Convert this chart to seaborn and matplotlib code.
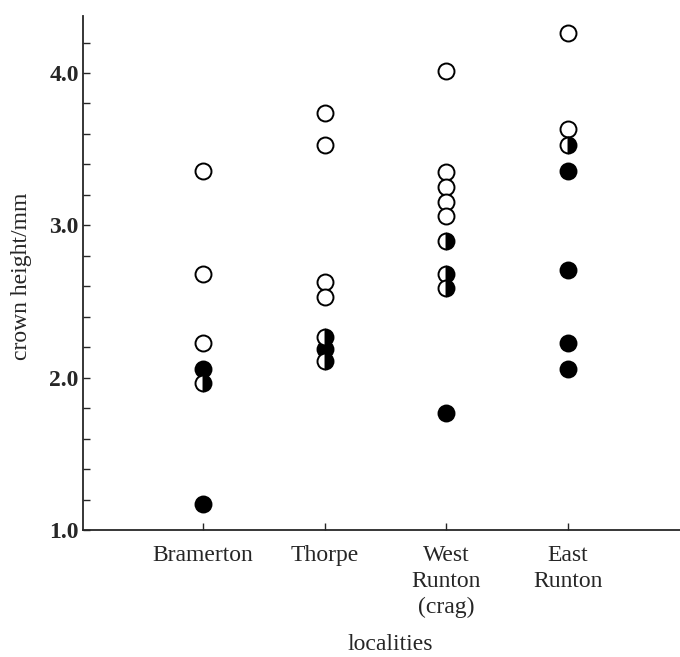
import numpy as np
import pandas as pd
import matplotlib
matplotlib.use("Agg")
import matplotlib.pyplot as plt
import seaborn as sns
from matplotlib.ticker import MultipleLocator

localities = ["Bramerton", "Thorpe", "West\nRunton\n(crag)", "East\nRunton"]

# crown heights per locality, by marker type
open_vals = {
    1: [3.36, 2.68, 2.23],
    2: [3.74, 3.53, 2.63, 2.53],
    3: [4.01, 3.35, 3.25, 3.15, 3.06],
    4: [4.26, 3.63],
}
filled_vals = {
    1: [2.06, 1.17],
    2: [2.19],
    3: [1.77],
    4: [3.36, 2.71, 2.23, 2.06],
}
half_vals = {
    1: [1.965],
    2: [2.27, 2.11],
    3: [2.90, 2.68, 2.59],
    4: [3.53],
}

def to_df(d):
    rows = [(k, v) for k, vs in d.items() for v in vs]
    return pd.DataFrame(rows, columns=["pos", "height"])

df_open = to_df(open_vals)
df_filled = to_df(filled_vals)
df_half = to_df(half_vals)

sns.set_style("ticks")
plt.rcParams["font.family"] = ["Liberation Serif", "DejaVu Serif"]

fig = plt.figure(figsize=(6.8, 6.57), dpi=100)
ax = fig.add_axes([83/680, 1-530/657, 1-83/680, (530-16)/657])

ms = 11.5
lw = 1.4
for df, fc in [(df_open, "white"), (df_filled, "black")]:
    sns.lineplot(data=df, x="pos", y="height", estimator=None, units=df.index,
                 ax=ax, linestyle="none", marker="o", markersize=ms,
                 markerfacecolor=fc, markeredgecolor="black",
                 markeredgewidth=lw, legend=False, sort=False)
sns.lineplot(data=df_half, x="pos", y="height", estimator=None, units=df_half.index,
             ax=ax, linestyle="none", marker="o", markersize=ms,
             fillstyle="right", markerfacecolor="black",
             markerfacecoloralt="white", markeredgecolor="black",
             markeredgewidth=lw, legend=False, sort=False)

unit = (568-203)/3
ax.set_xlim(1-(203-83)/unit, 1+(680-203)/unit)
ax.set_ylim(1.0, 1+(530-16)/152.33)

fs = 17
ax.set_xticks([1, 2, 3, 4])
ax.set_xticklabels(localities, fontsize=fs, linespacing=1.3, va="top")
ax.yaxis.set_major_locator(MultipleLocator(1.0))
ax.yaxis.set_minor_locator(MultipleLocator(0.2))
ax.set_yticks([1.0, 2.0, 3.0, 4.0])
ax.set_yticklabels(["1.0", "2.0", "3.0", "4.0"], fontsize=fs, fontweight="bold")

ax.tick_params(axis="y", which="both", direction="in", length=5, width=1.0, pad=3)
ax.tick_params(axis="x", which="both", direction="in", length=5, width=1.0, pad=11)

for s in ["top", "right"]:
    ax.spines[s].set_visible(False)
for s in ["left", "bottom"]:
    ax.spines[s].set_linewidth(1.3)

ax.set_xlabel("localities", fontsize=fs)
ax.set_ylabel("crown height/mm", fontsize=fs)
ax.xaxis.set_label_coords((390-83)/(680-83), -(634-530)/514)
ax.yaxis.set_label_coords(-(83-32)/(680-83), (530-276)/514)

fig.savefig("out.png", dpi=100)
